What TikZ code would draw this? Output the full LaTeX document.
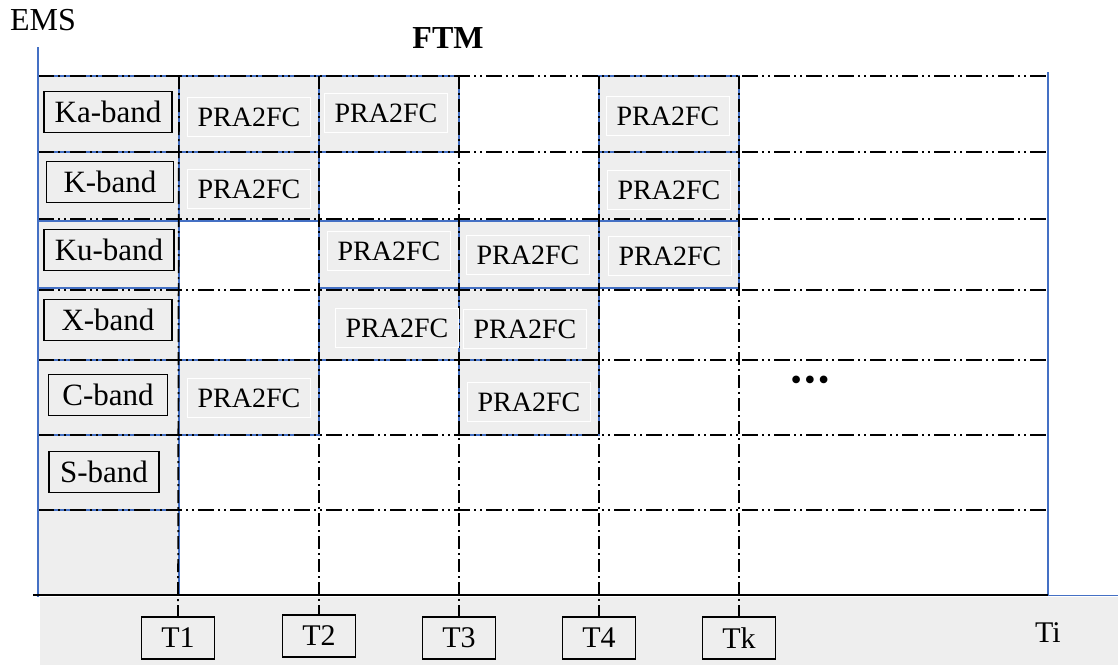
\documentclass[tikz,border=0pt]{standalone}
\usepackage{fontspec}
\setmainfont{Liberation Serif}
\definecolor{cellgray}{HTML}{EEEEEE}
\definecolor{gridblue}{HTML}{4470C4}
\begin{document}
\begin{tikzpicture}[x=1pt,y=-1pt,
  hdash/.style={black, line width=1.7pt, dash pattern=on 16pt off 4pt on 2pt off 4pt on 2pt off 4pt},
  vdash/.style={black, line width=1.7pt, dash pattern=on 13pt off 4pt on 2pt off 4pt},
  bluecell/.style={fill=cellgray, draw=gridblue, line width=1.5pt},
  blueline/.style={draw=gridblue, line width=1.5pt},
  bandbox/.style={draw=black, line width=1.8pt, fill=cellgray, minimum height=41pt, inner sep=0pt, font=\fontsize{31}{33}\selectfont},
  prabox/.style={draw=white, line width=1.5pt, fill=cellgray, minimum width=123pt, minimum height=39pt, inner sep=0pt, font=\fontsize{28}{30}\selectfont},
  tbox/.style={draw=black, line width=1.6pt, fill=cellgray, minimum width=73pt, minimum height=42pt, inner sep=0pt, font=\fontsize{30}{32}\selectfont},
  plaintext/.style={inner sep=0pt, font=\fontsize{30}{32}\selectfont}
]
\useasboundingbox (0,0) rectangle (1118,665);
% bottom gray band
\fill[cellgray] (40,597) rectangle (1118,665);
% first column
\foreach \ya/\yb in {76/152,152/221,221/288,288/360,360/435,435/510,510/595}
  \draw[bluecell] (38,\ya) rectangle (179,\yb);
% occupied cells
\foreach \xa/\xb/\ya/\yb in {179/319/76/152, 319/459/76/152, 599/739/76/152,
  179/319/152/221, 599/739/152/221,
  319/459/221/288, 459/599/221/288, 599/739/221/288,
  319/459/288/360, 459/599/288/360,
  179/319/360/435, 459/599/360/435}
  \draw[bluecell] (\xa,\ya) rectangle (\xb,\yb);
% horizontal dash-dot-dot lines
\foreach \y in {76,152,219,290,360,435,510}
  \draw[hdash] (38,\y) -- (1048,\y);
% axes
\draw[blueline] (38,47) -- (38,597);
\draw[blueline] (1048,72) -- (1048,595);
\draw[draw=gridblue, line width=1pt] (1048,595) -- (1118,595);
\draw[black, line width=1.8pt] (33,595) -- (1048,595);
% time boxes
\node[tbox] (T1) at (178,638) {T1};
\node[tbox] (T2) at (319,636) {T2};
\node[tbox] (T3) at (459,638) {T3};
\node[tbox] (T4) at (599,638) {T4};
\node[tbox] (Tk) at (739,638) {Tk};
% vertical dash-dot lines
\coordinate (c1) at (179,76);
\coordinate (c2) at (319,76);
\coordinate (c3) at (459,76);
\coordinate (c4) at (599,76);
\coordinate (c5) at (739,76);
\draw[vdash] (c1) -- (T1.north);
\draw[vdash] (c2) -- (T2.north);
\draw[vdash] (c3) -- (T3.north);
\draw[vdash] (c4) -- (T4.north);
\draw[vdash] (c5) -- (Tk.north);
% band labels
\node[bandbox, minimum width=128pt] (ka) at (108,112) {Ka-band};
\node[bandbox, minimum width=127pt] (k) at (110,182) {K-band};
\node[bandbox, minimum width=130pt] (ku) at (109,250) {Ku-band};
\node[bandbox, minimum width=128pt] (x) at (108,320) {X-band};
\node[bandbox, minimum width=119pt] (c) at (108,395) {C-band};
\node[bandbox, minimum width=110pt] (s) at (104,472) {S-band};
% PRA2FC blocks
\node[prabox] (p11) at (249,117) {PRA2FC};
\node[prabox] (p12) at (386,113) {PRA2FC};
\node[prabox] (p14) at (668,116) {PRA2FC};
\node[prabox] (p21) at (249,189) {PRA2FC};
\node[prabox] (p24) at (669,190) {PRA2FC};
\node[prabox] (p32) at (389,251) {PRA2FC};
\node[prabox] (p33) at (528,255) {PRA2FC};
\node[prabox] (p34) at (670,256) {PRA2FC};
\node[prabox] (p42) at (397,328) {PRA2FC};
\node[prabox] (p43) at (525,329) {PRA2FC};
\node[prabox] (p51) at (249,398) {PRA2FC};
\node[prabox] (p53) at (529,402) {PRA2FC};
% titles
\node[plaintext, font=\fontsize{32}{34}\selectfont] (ems) at (43,20) {EMS};
\node[plaintext, font=\fontsize{32}{34}\selectfont\bfseries] (ftm) at (448,38) {FTM};
\node[plaintext] (ti) at (1048,633) {Ti};
\node[inner sep=0pt, font=\fontsize{32}{34}\selectfont] (dots) at (810,383) {•\kern2.5pt•\kern2.5pt•};
\end{tikzpicture}
\end{document}
